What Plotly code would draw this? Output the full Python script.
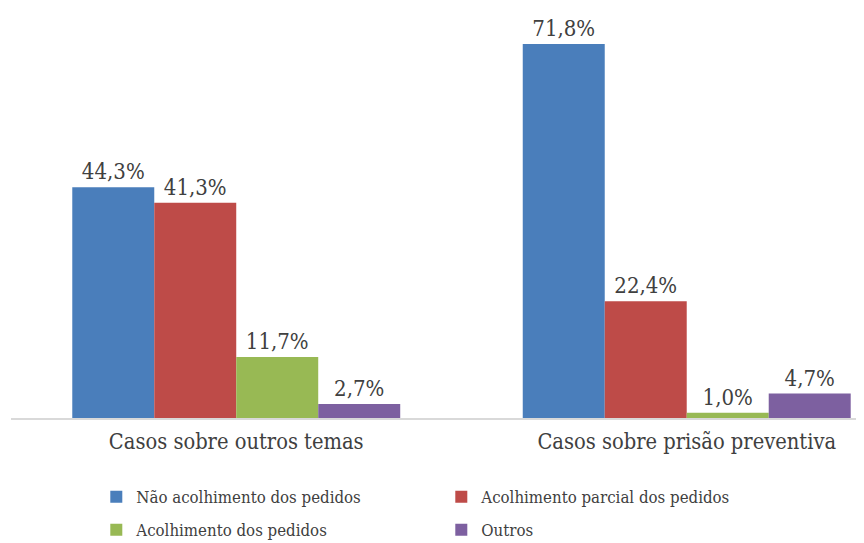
import plotly.graph_objects as go

categories = ["Casos sobre outros temas", "Casos sobre prisão preventiva"]
series_names = ["Não acolhimento dos pedidos", "Acolhimento parcial dos pedidos",
                "Acolhimento dos pedidos", "Outros"]
nao_acolhimento = [44.3, 71.8]
acolhimento_parcial = [41.3, 22.4]
acolhimento = [11.7, 1.0]
outros = [2.7, 4.7]
colors = ["#4A7EBB", "#BE4B48", "#98B954", "#7D60A0"]

FONT = "DejaVu Serif Condensed, DejaVu Serif, serif"
TXT = "#404040"

values = [nao_acolhimento, acolhimento_parcial, acolhimento, outros]
legends = ["legend", "legend", "legend2", "legend2"]

fig = go.Figure()
for name, vals, col, lg in zip(series_names, values, colors, legends):
    fig.add_trace(go.Bar(
        x=categories, y=vals, name=name, marker=dict(color=col, line=dict(width=0)),
        texttemplate="%{y:.1f}%", textposition="outside",
        textfont=dict(family=FONT, size=22, color=TXT),
        cliponaxis=False, legend=lg,
    ))

leg_common = dict(orientation="h", xanchor="left", yanchor="middle",
                  entrywidth=300, entrywidthmode="pixels",
                  font=dict(family=FONT, size=16.7, color=TXT), bgcolor="rgba(0,0,0,0)")

fig.update_layout(
    width=856, height=535,
    margin=dict(l=3, r=0, t=0, b=125, autoexpand=False),
    paper_bgcolor="white", plot_bgcolor="white",
    separators=",.",
    barmode="group", bargap=0.272, bargroupgap=0,
    font=dict(family=FONT, color=TXT, size=21),
    xaxis=dict(range=[-0.5, 1.3935], showline=True, linecolor="#D9D9D9", linewidth=2,
               ticks="", tickfont=dict(family=FONT, size=21.7, color=TXT),
               ticklabelstandoff=3,
               showgrid=False, zeroline=False, fixedrange=True),
    yaxis=dict(range=[0, 78.7], visible=False, showgrid=False, zeroline=False),
    showlegend=True,
    legend=dict(x=0.1, y=-0.1927, **leg_common),
    legend2=dict(x=0.1, y=-0.273, **leg_common),
)

fig.write_html("out.html")
